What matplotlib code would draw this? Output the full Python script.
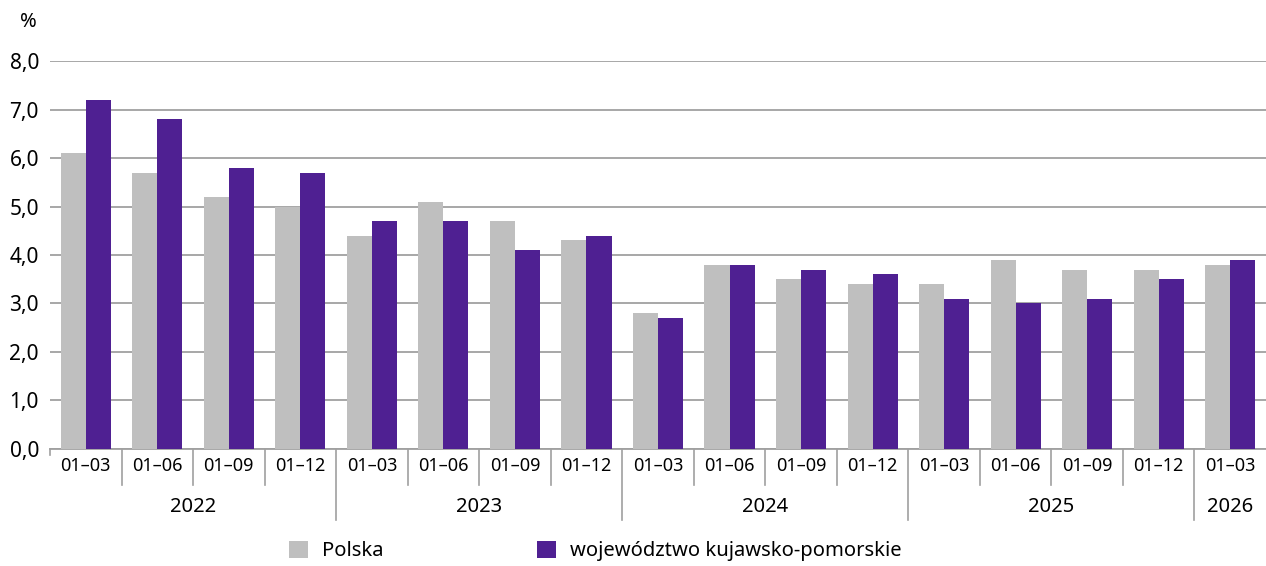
import matplotlib

matplotlib.use("Agg")
import matplotlib.pyplot as plt
import matplotlib.transforms as mtransforms
import numpy as np

periods = ["01–03", "01–06", "01–09", "01–12"] * 4 + ["01–03"]
years = ["2022", "2023", "2024", "2025", "2026"]
year_sizes = [4, 4, 4, 4, 1]
polska = [6.1, 5.7, 5.2, 5.0, 4.4, 5.1, 4.7, 4.3, 2.8, 3.8, 3.5, 3.4, 3.4, 3.9, 3.7, 3.7, 3.8]
kujawsko = [7.2, 6.8, 5.8, 5.7, 4.7, 4.7, 4.1, 4.4, 2.7, 3.8, 3.7, 3.6, 3.1, 3.0, 3.1, 3.5, 3.9]
yticks = [0, 1, 2, 3, 4, 5, 6, 7, 8]

plt.rcParams["font.family"] = ["Noto Sans", "DejaVu Sans"]
grey = "#bfbfbf"
purple = "#4f2092"
line_c = "#a0a0a0"

fig = plt.figure(figsize=(12.66, 5.66), dpi=100)
ax = fig.add_axes([0.0395, 0.207, 0.9605, 0.685])

x = np.arange(len(polska))
w = 0.35
ax.bar(x - w / 2, polska, w, color=grey, zorder=3, label="Polska")
ax.bar(x + w / 2, kujawsko, w, color=purple, zorder=3,
       label="województwo kujawsko-pomorskie")

ax.set_xlim(-0.5, len(x) - 0.5)
ax.set_ylim(0, 8)
ax.set_yticks(yticks)
ax.set_yticklabels([f"{v:.1f}".replace(".", ",") for v in yticks], fontsize=15)
ax.yaxis.grid(True, color=line_c, linewidth=1.3, zorder=0)
ax.tick_params(axis="y", length=0, pad=8)
for s in ["top", "right", "left"]:
    ax.spines[s].set_visible(False)
ax.spines["bottom"].set_color(line_c)
ax.spines["bottom"].set_linewidth(1.3)

ax.set_xticks(x)
ax.set_xticklabels(periods, fontsize=13)
ax.tick_params(axis="x", length=0, pad=6)

# separators under the axis: short between periods, long between years
trans = mtransforms.blended_transform_factory(ax.transData, ax.transAxes)
bounds = np.cumsum(year_sizes)[:-1]
for b in range(1, len(x)):
    depth = -0.183 if b in bounds else -0.093
    ax.plot([b - 0.5, b - 0.5], [0, depth], color=line_c, lw=1.2,
            transform=trans, clip_on=False)
ax.plot([-0.5, -0.5], [0, -0.015], color=line_c, lw=1.2, transform=trans, clip_on=False)

start = 0
for yr, n in zip(years, year_sizes):
    ax.text(start + (n - 1) / 2, -0.15, yr, transform=trans, ha="center",
            va="center", fontsize=14.5)
    start += n

fig.text(28 / 1266, 1 - 22 / 566, "%", fontsize=14.5, ha="center", va="center")

handles, labels = ax.get_legend_handles_labels()
fig.legend(handles, labels, loc="center left", bbox_to_anchor=(289 / 1266, 1 - 551 / 566),
           ncol=2, frameon=False, fontsize=14.5, handlelength=0.95, handleheight=0.9,
           columnspacing=7.6, handletextpad=0.7, borderpad=0, borderaxespad=0)

plt.savefig("out.png", dpi=100)
plt.close()
